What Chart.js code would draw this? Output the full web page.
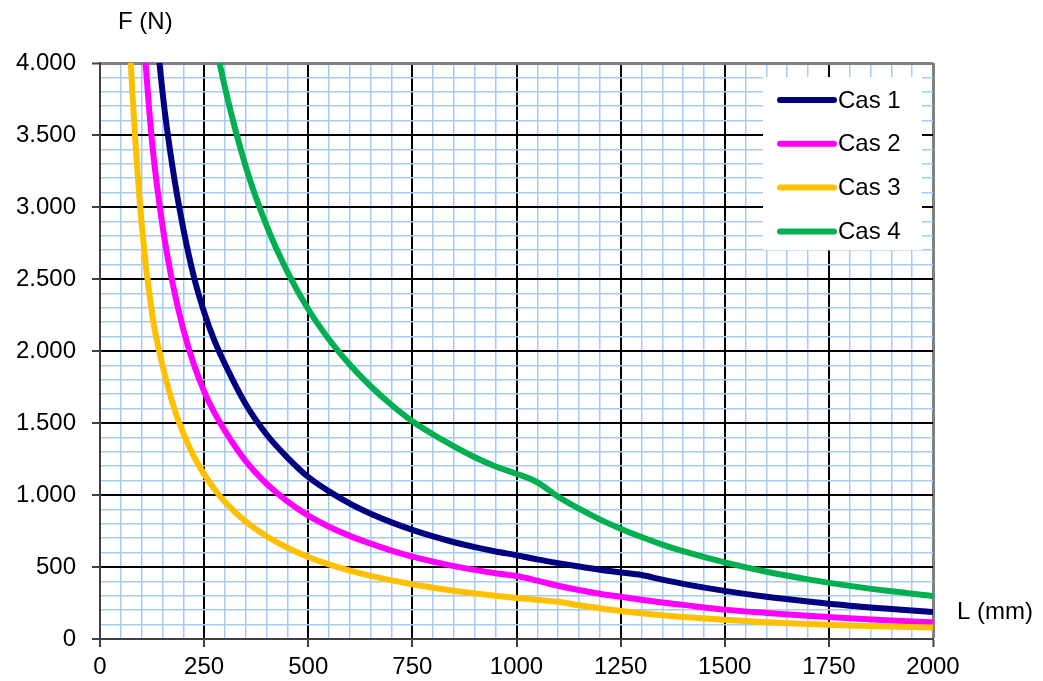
<!DOCTYPE html>
<html>
<head>
<meta charset="utf-8">
<script src="https://cdn.jsdelivr.net/npm/chart.js@4"></script>
<style>
  html, body { margin: 0; padding: 0; background: #fff; }
  #wrap { width: 1043px; height: 681px; }
</style>
</head>
<body>
<div id="wrap"><canvas id="chart" width="1043" height="681"></canvas></div>
<script>
// L (mm) sample points
const lengths = [50, 60, 75, 100, 125, 150, 175, 200, 225, 250, 275, 300, 350, 400, 450, 500, 550, 600, 650, 700, 750,
  800, 850, 900, 950, 1000, 1050, 1100, 1150, 1200, 1250, 1300, 1350, 1400, 1500, 1600, 1700, 1800, 1900, 2000];

// F (N), one value per length (null = off the chart)
const cas1 = [null, null, null, 5800, 4600, 3800, 3260, 2850, 2520, 2270, 2070, 1910, 1630, 1420, 1260, 1125, 1025, 940, 870, 810, 758,
  712, 672, 638, 608, 582, 553, 527, 503, 481, 462, 444, 412, 383, 334, 293, 260, 231, 208, 187];
const cas2 = [null, null, null, 4350, 3450, 2870, 2460, 2150, 1910, 1720, 1570, 1445, 1235, 1078, 955, 857, 780, 716, 662, 614, 572,
  537, 506, 480, 457, 437, 405, 370, 340, 314, 293, 272, 253, 237, 204, 181, 161, 144, 129, 116];
const cas3 = [null, 4900, 3940, 2880, 2260, 1900, 1630, 1430, 1270, 1145, 1040, 952, 815, 714, 634, 570, 518, 475, 438, 407, 380,
  356, 335, 317, 300, 285, 272, 258, 234, 214, 195, 179, 165, 153, 133, 117, 104, 94, 86, 80];
const cas4 = [null, null, null, null, null, null, null, null, null, 4600, 4180, 3830, 3280, 2870, 2550, 2290, 2080, 1905, 1755, 1625, 1512,
  1420, 1338, 1262, 1198, 1148, 1088, 988, 905, 831, 766, 708, 656, 610, 532, 467, 414, 369, 331, 299];

const seriesNames = ["Cas 1", "Cas 2", "Cas 3", "Cas 4"];
const seriesColors = ["#000080", "#FF00FF", "#FFC000", "#00B050"];
const yTitle = "F (N)";
const xTitle = "L (mm)";

const FONT = "'Liberation Sans', Arial, sans-serif";
const AXIS = "#404040";
const BORDER = "#808080";
const MINOR = "#A6CAF0";

function toPoints(values) {
  return lengths.map((l, i) => ({ x: l, y: values[i] }));
}

function fmtThousands(v) {
  if (v < 1000) return String(v);
  return Math.floor(v / 1000) + "." + String(v % 1000).padStart(3, "0");
}

// axis titles + legend box drawn inside the plot
const extras = {
  id: "extras",
  afterDatasetsDraw(chart) {
    const { ctx, chartArea: ca } = chart;
    ctx.save();
    ctx.font = "24px " + FONT;
    ctx.fillStyle = "#000";
    ctx.textBaseline = "middle";
    ctx.textAlign = "left";
    ctx.fillText(yTitle, ca.left + 18, ca.top - 41);
    ctx.fillText(xTitle, ca.right + 24, ca.bottom - 27);

    // legend
    const left = ca.left + 663, top = ca.top + 14;
    ctx.fillStyle = "#fff";
    ctx.fillRect(left, top, 159, 173);
    chart.data.datasets.forEach((ds, i) => {
      const y = top + 23 + i * 43.8;
      ctx.strokeStyle = ds.borderColor;
      ctx.lineWidth = 6;
      ctx.lineCap = "round";
      ctx.beginPath();
      ctx.moveTo(left + 17, y);
      ctx.lineTo(left + 71, y);
      ctx.stroke();
      ctx.fillStyle = "#000";
      ctx.fillText(ds.label, left + 75, y + 1);
    });
    ctx.restore();
  },
};

const datasets = [cas1, cas2, cas3, cas4].map((vals, i) => ({
  label: seriesNames[i],
  data: toPoints(vals),
  borderColor: seriesColors[i],
  backgroundColor: seriesColors[i],
  borderWidth: 6,
  pointRadius: 0,
  cubicInterpolationMode: "monotone",
  borderJoinStyle: "round",
  order: 4 - i,
}));

new Chart(document.getElementById("chart"), {
  type: "line",
  data: { datasets },
  plugins: [extras],
  options: {
    responsive: false,
    animation: false,
    layout: { padding: { top: 63, right: 110, left: 0, bottom: 0 } },
    plugins: { legend: { display: false }, tooltip: { enabled: false } },
    scales: {
      x: {
        type: "linear",
        min: 0,
        max: 2000,
        afterFit: (s) => { s.height = 42; },
        border: { color: AXIS, width: 2 },
        grid: {
          color: (c) => {
            const v = c.tick.value;
            if (v === 0) return AXIS;
            if (v === 2000) return BORDER;
            return v % 250 === 0 ? "#000" : MINOR;
          },
          lineWidth: (c) => (c.tick.value === 2000 ? 3 : c.tick.value % 250 === 0 ? 2 : 1.5),
          tickColor: (c) => (c.tick.value % 250 === 0 ? AXIS : "rgba(0,0,0,0)"),
          tickWidth: 2,
          tickLength: 8,
        },
        ticks: {
          stepSize: 50,
          maxTicksLimit: 100,
          autoSkip: false,
          maxRotation: 0,
          minRotation: 0,
          padding: 6,
          color: "#000",
          font: { family: FONT, size: 24 },
          callback: (v) => (v % 250 === 0 ? String(v) : ""),
        },
      },
      y: {
        min: 0,
        max: 4000,
        afterFit: (s) => { s.width = 100; },
        border: { color: AXIS, width: 2 },
        grid: {
          color: (c) => {
            const v = c.tick.value;
            if (v === 0) return AXIS;
            if (v === 4000) return BORDER;
            return v % 500 === 0 ? "#000" : MINOR;
          },
          lineWidth: (c) => (c.tick.value === 4000 ? 3 : c.tick.value % 500 === 0 ? 2 : 1.5),
          tickColor: (c) => (c.tick.value % 500 === 0 ? AXIS : "rgba(0,0,0,0)"),
          tickWidth: 2,
          tickLength: 8,
        },
        ticks: {
          stepSize: 100,
          maxTicksLimit: 100,
          autoSkip: false,
          padding: 16,
          color: "#000",
          font: { family: FONT, size: 24 },
          callback: (v) => (v % 500 === 0 ? fmtThousands(v) : ""),
        },
      },
    },
  },
});
</script>
</body>
</html>
